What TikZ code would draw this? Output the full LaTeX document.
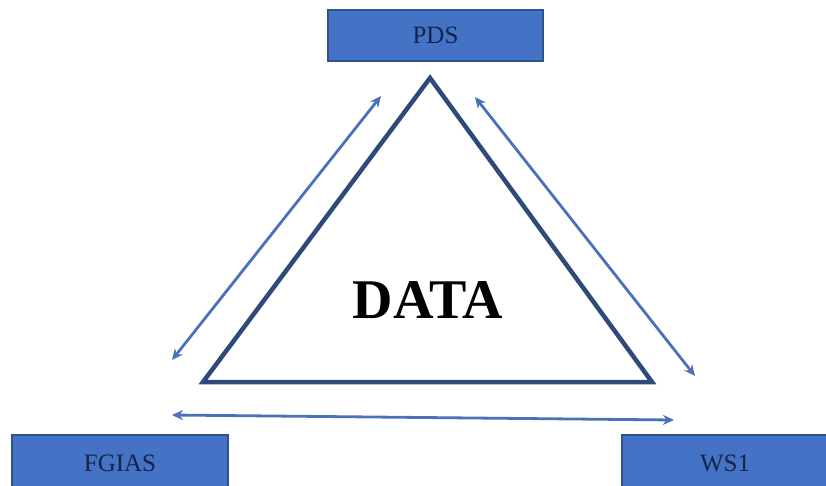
\documentclass[tikz,border=0pt]{standalone}
\usepackage{fontspec}
\setmainfont{Liberation Serif}
\usetikzlibrary{arrows.meta}
\definecolor{boxfill}{HTML}{4472C4}
\definecolor{boxline}{HTML}{2F528F}
\definecolor{boxtext}{HTML}{15244A}
\definecolor{triline}{HTML}{2E4A78}
\definecolor{arrowcol}{HTML}{4A72B8}
\tikzset{
  blockbox/.style={draw=boxline, line width=1.5pt, fill=boxfill, text=boxtext,
    font=\fontsize{25}{27}\selectfont, inner sep=0pt},
  link/.style={draw=arrowcol, line width=2.8pt,
    {Stealth[length=11pt,width=10pt]}-{Stealth[length=11pt,width=10pt]}}
}
\begin{document}
\begin{tikzpicture}[x=1pt,y=-1pt]
  \useasboundingbox (0,0) rectangle (826,485);
  % three stakeholder boxes
  \node[blockbox, minimum width=215pt, minimum height=51pt] (pds) at (435.5,35.5) {PDS};
  \node[blockbox, minimum width=216pt, minimum height=56pt] (fgias) at (120,463) {FGIAS};
  \node[blockbox, minimum width=206pt, minimum height=56pt] (ws) at (725,463) {WS1};
  % central triangle
  \coordinate (top) at (430,78);
  \coordinate (bl) at (203,382);
  \coordinate (br) at (652,382);
  \draw[triline, line width=4.5pt, line join=miter] (top) -- (br) -- (bl) -- cycle;
  \node[font=\fontsize{56}{58}\selectfont\bfseries] (data) at (428,300) {DATA};
  % exchange arrows
  \coordinate (l1) at (172,360);
  \coordinate (l2) at (381,96);
  \coordinate (r1) at (475,97);
  \coordinate (r2) at (695,376);
  \coordinate (b1) at (172,415);
  \coordinate (b2) at (674,420);
  \draw[link] (l1) -- (l2);
  \draw[link] (r1) -- (r2);
  \draw[link] (b1) -- (b2);
\end{tikzpicture}
\end{document}
